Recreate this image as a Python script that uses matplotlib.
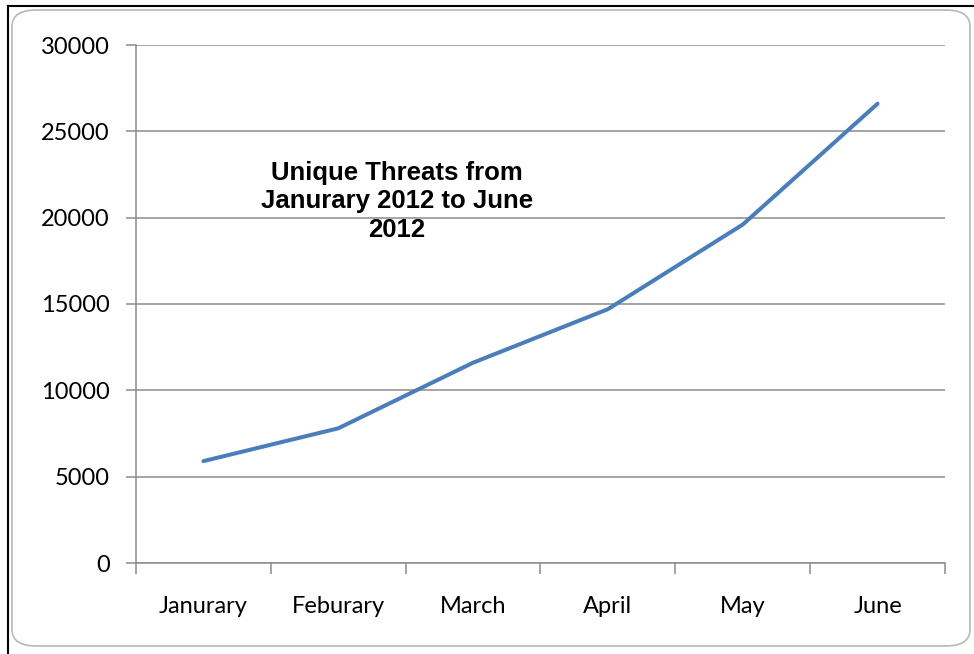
import matplotlib.pyplot as plt
from matplotlib.patches import FancyBboxPatch

months = ["Janurary", "Feburary", "March", "April", "May", "June"]
threats = [5900, 7800, 11600, 14700, 19600, 26600]
y_ticks = [0, 5000, 10000, 15000, 20000, 25000, 30000]

LINE = "#4A7EBB"
GRID = "#8C8C8C"

fig = plt.figure(figsize=(9.74, 6.54), dpi=100)

# chart area frame (rounded, like an Excel chart object)
frame = FancyBboxPatch((12 / 974, 8 / 654), 958 / 974, 636 / 654,
                       boxstyle="round,pad=0,rounding_size=0.025",
                       transform=fig.transFigure, facecolor="white",
                       edgecolor="#B8B8B8", linewidth=1.2, zorder=-5)
fig.patches.append(frame)
fig.add_artist(plt.Line2D([8 / 974, 8 / 974], [0, 1 - 6 / 654], color="black", lw=1.5, zorder=-4))
fig.add_artist(plt.Line2D([8 / 974, 1], [1 - 6 / 654, 1 - 6 / 654], color="black", lw=1.5, zorder=-4))

ax = fig.add_axes([136 / 974, 1 - 563 / 654, 809 / 974, 518 / 654])
ax.set_facecolor("none")
ax.set_zorder(2)

x = list(range(len(months)))
ax.plot(x, threats, color=LINE, linewidth=2.9, solid_capstyle="round", zorder=3)

ax.set_xlim(-0.5, len(months) - 0.5)
ax.set_ylim(0, 30000)
ax.set_yticks(y_ticks)
ax.set_yticklabels([str(v) for v in y_ticks])
ax.set_xticks(x)
ax.set_xticklabels(months)
ax.set_xticks([i - 0.5 for i in range(len(months) + 1)], minor=True)

ax.yaxis.grid(True, color=GRID, linewidth=1.1)
ax.set_axisbelow(True)
for s in ["top", "right"]:
    ax.spines[s].set_visible(False)
for s in ["left", "bottom"]:
    ax.spines[s].set_color(GRID)
    ax.spines[s].set_linewidth(1.1)

ax.tick_params(axis="y", length=7, width=1.1, color=GRID, pad=12,
               labelsize=17, labelcolor="black")
ax.tick_params(axis="x", which="major", length=0, pad=24,
               labelsize=17, labelcolor="black")
ax.tick_params(axis="x", which="minor", length=8, width=1.1, color=GRID)
for lab in ax.get_xticklabels() + ax.get_yticklabels():
    lab.set_fontfamily("Lato")

ax.text(0.3226, 0.698, "Unique Threats from\nJanurary 2012 to June\n2012",
        transform=ax.transAxes, ha="center", va="center", multialignment="center",
        fontsize=18.5, fontweight="bold", family="Liberation Sans", linespacing=1.25)

fig.savefig("out.png", dpi=100)
